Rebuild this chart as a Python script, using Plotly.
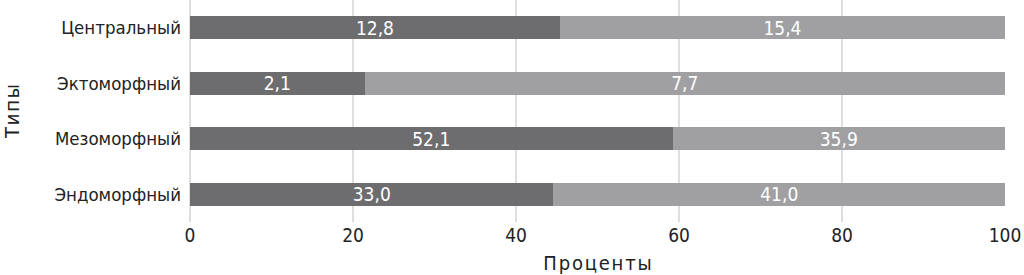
import plotly.graph_objects as go

categories = ["Центральный", "Эктоморфный", "Мезоморфный", "Эндоморфный"]
series_a = [12.8, 2.1, 52.1, 33.0]
series_b = [15.4, 7.7, 35.9, 41.0]
x_ticks = [0, 20, 40, 60, 80, 100]

FONT = "Liberation Sans Narrow, DejaVu Sans Condensed, sans-serif"
HS = "\u200a"

def fmt(v):
    return f"{v:.1f}".replace(".", ",")

fig = go.Figure()
for vals, col in ((series_a, "#6d6d70"), (series_b, "#a0a0a3")):
    fig.add_trace(go.Bar(
        y=categories, x=vals, orientation="h",
        marker=dict(color=col, line=dict(width=0)),
        text=[fmt(v) for v in vals], textposition="inside",
        insidetextanchor="middle", constraintext="none",
        textfont=dict(color="white", size=19, family=FONT),
    ))

fig.update_layout(
    width=1024, height=275,
    margin=dict(l=190, r=19, t=0, b=53),
    barmode="stack", barnorm="percent", bargap=0.58,
    showlegend=False,
    plot_bgcolor="white", paper_bgcolor="white",
    font=dict(family=FONT, size=19, color="#222"),
)
fig.update_xaxes(
    range=[0, 100], tickvals=x_ticks, ticktext=[str(t) for t in x_ticks],
    showgrid=True, gridcolor="#dedede", gridwidth=2,
    zeroline=True, zerolinecolor="#dedede", zerolinewidth=2,
    tickfont=dict(size=19, color="#222"),
    title=dict(text=HS.join("Проценты"), font=dict(size=20, color="#222"), standoff=10),
    ticks="", fixedrange=True,
)
fig.update_yaxes(
    categoryorder="array", categoryarray=categories[::-1],
    tickfont=dict(size=18.5, color="#222"), ticks="", ticklabelstandoff=8,
    title=dict(text=HS.join("Типы"), font=dict(size=20, color="#222"), standoff=30),
    showgrid=False,
)

fig.write_html("out.html")
